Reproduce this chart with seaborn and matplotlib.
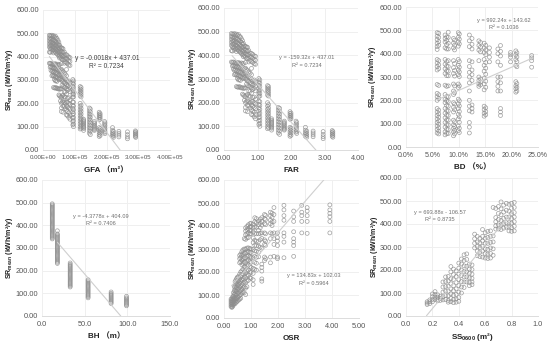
import matplotlib
matplotlib.use("Agg")
import matplotlib.pyplot as plt
import numpy as np
import pandas as pd
import seaborn as sns

# Shared SR values, one list per FAR / GFA column
far_values = [0.22, 0.25, 0.28, 0.31, 0.34, 0.37, 0.40, 0.43, 0.46, 0.49, 0.52, 0.55, 0.58, 0.61,
              0.64, 0.67, 0.70, 0.74, 0.78, 0.82, 0.86, 0.90, 0.94, 1.04, 1.07, 1.30, 1.33, 1.42,
              1.62, 1.66, 1.80, 1.97, 2.00, 2.15, 2.17, 2.43, 2.47, 2.66, 2.96, 3.23, 3.25]
gfa_values = [20000, 22500, 25000, 28000, 31000, 33000, 36000, 39000, 41000, 44000, 47000, 50000, 52000, 55000,
              58000, 60000, 63000, 67000, 70000, 74000, 77000, 81000, 85000, 94000, 96000, 117000, 120000, 128000,
              146000, 149000, 162000, 177000, 180000, 194000, 195000, 219000, 222000, 239000, 266000, 291000, 292000]
sr_by_far = [
    [492, 480, 468, 455, 442, 420, 372],
    [490, 476, 462, 448, 436, 418, 370, 355],
    [488, 474, 460, 446, 432, 372, 358, 342],
    [492, 478, 464, 450, 436, 422, 368, 352, 336, 318],
    [486, 470, 456, 442, 428, 370, 354, 338, 320],
    [490, 472, 458, 444, 430, 416, 366, 350, 334, 316, 268],
    [484, 468, 452, 438, 424, 368, 352, 336, 318, 302, 266],
    [488, 466, 450, 434, 420, 370, 348, 330, 312, 296, 265],
    [480, 462, 446, 430, 416, 366, 350, 332, 314, 298, 268],
    [478, 458, 442, 426, 412, 364, 346, 328, 310, 294, 264],
    [470, 454, 438, 422, 408, 368, 344, 326, 308, 262],
    [462, 448, 432, 416, 402, 364, 342, 322, 304, 264, 236],
    [450, 436, 420, 406, 394, 366, 340, 320, 302, 260, 232],
    [440, 426, 412, 398, 344, 326, 306, 262, 228, 210],
    [438, 422, 406, 392, 370, 346, 322, 300, 262, 226, 200, 180, 165],
    [436, 420, 404, 388, 340, 318, 298, 278, 232, 205],
    [434, 418, 400, 386, 335, 312, 292, 272, 234, 208, 188, 162],
    [420, 404, 388, 372, 330, 310, 290, 270, 250, 228, 204, 186],
    [410, 394, 378, 325, 305, 286, 268, 248, 226, 200, 178],
    [408, 392, 374, 345, 318, 298, 280, 262, 240, 205, 190, 170, 150],
    [404, 388, 370, 292, 274, 256, 222, 205, 185, 165, 148],
    [398, 382, 364, 296, 278, 260, 224, 200, 180, 160, 140],
    [396, 380, 362, 288, 270, 250, 215, 195, 175, 150, 132],
    [302, 288, 274, 260, 248, 236, 226, 206, 192, 178, 164, 150, 136, 122, 108],
    [296, 282, 268, 254, 240, 228, 204, 188, 172, 156, 140, 126, 112, 100],
    [272, 262, 252, 242, 232, 200, 186, 172, 160, 148, 136, 124, 112, 100, 90],
    [268, 258, 248, 238, 228, 192, 178, 166, 154, 142, 130, 118, 106, 94],
    [132, 122, 112, 102, 92, 84, 126, 116, 106, 96],
    [180, 168, 156, 144, 132, 120, 108, 96, 84, 72],
    [176, 164, 152, 140, 128, 116, 104, 92, 80, 66],
    [122, 112, 102, 92, 84, 116, 106, 96, 88],
    [162, 154, 146, 138, 130, 96, 86, 76, 66, 58],
    [156, 148, 140, 132, 92, 82, 72, 62],
    [122, 110, 98, 86, 76],
    [116, 104, 92, 80, 70],
    [96, 84, 74, 66, 58],
    [80, 70, 62, 54],
    [80, 72, 64, 56],
    [78, 66, 56, 48],
    [82, 74, 66, 58],
    [78, 70, 62, 54],
]

bd_values = [0.059, 0.062, 0.074, 0.077, 0.080, 0.090, 0.092, 0.099, 0.101, 0.120, 0.125, 0.138, 0.141,
             0.148, 0.151, 0.158, 0.174, 0.179, 0.198, 0.208, 0.210, 0.238]
sr_by_bd = [
    [490, 475, 460, 445, 430, 418, 375, 360, 345, 330, 268, 230, 215, 200, 165, 150, 135, 120, 105, 90, 75, 60],
    [488, 470, 452, 436, 370, 352, 336, 264, 224, 208, 158, 142, 128, 112, 98, 82, 68, 56],
    [480, 465, 450, 425, 375, 355, 335, 315, 265, 225, 205, 190, 165, 145, 125, 105, 85, 65, 52],
    [472, 456, 438, 420, 366, 346, 326, 306, 260, 216, 198, 178, 156, 136, 116, 96, 76, 58],
    [492, 470, 445, 420, 370, 345, 325, 305, 262, 215, 195, 175, 155, 135, 115, 95, 75, 58],
    [465, 445, 425, 370, 340, 315, 270, 240, 225, 190, 170, 150, 115, 95, 80, 65, 48],
    [458, 436, 416, 358, 328, 304, 262, 232, 184, 160, 108, 88, 72, 56],
    [490, 470, 450, 432, 375, 350, 330, 310, 270, 255, 205, 185, 165, 140, 120, 90, 70],
    [484, 462, 442, 366, 342, 322, 302, 262, 198, 176, 152, 130, 106, 80, 62],
    [480, 455, 430, 370, 345, 320, 300, 275, 240, 200, 175, 155, 105, 85, 60],
    [465, 440, 420, 365, 330, 310, 285, 180, 165, 150],
    [455, 435, 415, 370, 300, 285, 270, 260],
    [448, 428, 408, 292, 278, 266],
    [445, 425, 405, 375, 350, 325, 295, 270, 245, 175, 160, 145, 132],
    [436, 416, 396, 362, 338, 312, 282, 256, 168, 152, 138],
    [425, 405, 385, 365],
    [420, 400, 365, 300, 280, 260, 240],
    [435, 410, 390, 350, 300, 275, 240, 165, 150, 135],
    [405, 395, 385, 365],
    [412, 395, 375, 350, 280, 262, 250, 235],
    [404, 386, 366, 344, 272, 256, 240],
    [392, 382, 370, 342],
]

bh_values = [12, 18, 33, 54, 81, 99]
sr_by_bh = [
    [340, 345, 350, 355, 360, 365, 370, 375, 380, 385, 390, 395, 400, 405, 410, 415, 420, 425, 430, 435, 440,
     445, 450, 455, 460, 465, 470, 475, 480, 485, 490, 495],
    [232, 237, 242, 247, 252, 257, 262, 267, 272, 277, 282, 287, 292, 297, 302, 307, 312, 317, 322, 327, 332,
     337, 342, 347, 352, 357, 362, 376],
    [128, 133, 138, 143, 148, 153, 158, 163, 168, 173, 178, 183, 188, 193, 198, 203, 208, 213, 218, 223, 228, 234],
    [80, 85, 90, 95, 100, 105, 110, 115, 120, 125, 130, 135, 140, 145, 150, 155, 160],
    [55, 60, 65, 70, 75, 80, 85, 90, 95, 100, 106],
    [45, 50, 55, 60, 65, 70, 75, 80, 87],
]

osr_values = [0.26, 0.29, 0.32, 0.35, 0.38, 0.41, 0.44, 0.47, 0.50, 0.54, 0.58, 0.62, 0.66, 0.70, 0.75,
              0.80, 0.85, 0.90, 0.96, 1.00, 1.08, 1.14, 1.20, 1.28, 1.34, 1.40, 1.50, 1.54, 1.72, 1.78,
              1.85, 1.98, 2.22, 2.58, 2.88, 3.08, 3.92]
sr_by_osr = [
    [82, 74, 66, 58, 50],
    [84, 76, 68, 60, 52, 46],
    [92, 82, 74, 66, 58, 50],
    [110, 96, 84, 74, 64, 56],
    [135, 118, 102, 88, 76, 64],
    [158, 140, 122, 106, 90, 76, 62],
    [165, 148, 130, 114, 98, 82, 68],
    [172, 152, 134, 116, 100, 84, 70],
    [178, 160, 142, 124, 106, 90, 74],
    [180, 162, 144, 126, 108, 92, 78],
    [272, 258, 240, 190, 170, 152, 134, 116, 98, 82],
    [278, 262, 244, 200, 180, 160, 140, 120, 102, 86],
    [288, 272, 252, 232, 205, 185, 165, 145, 125, 108],
    [296, 278, 258, 238, 212, 192, 172, 152, 132, 112],
    [345, 300, 282, 262, 242, 222, 200, 178, 156, 134, 110],
    [392, 378, 362, 342, 300, 282, 262, 242, 220, 198, 176, 154, 130, 102],
    [398, 384, 366, 348, 304, 286, 268, 248, 226, 204, 182, 160, 136],
    [405, 388, 370, 350, 305, 288, 270, 250, 230, 208, 186, 164],
    [410, 396, 380, 366, 302, 286, 268, 246, 224, 200, 176],
    [412, 398, 382, 366, 300, 284, 264, 242, 220, 198, 172],
    [408, 392, 374, 348, 328, 298, 262, 216, 194, 166, 146],
    [436, 418, 396, 368, 338, 316, 292, 268, 242, 212],
    [432, 414, 394, 366, 334, 314, 290, 264, 238, 208],
    [422, 406, 382, 366, 332, 312, 286, 266],
    [430, 412, 392, 368, 340, 308],
    [436, 420, 404, 370, 346, 304, 234, 220, 204, 170, 160],
    [450, 432, 410, 370, 340, 320, 265, 250],
    [446, 428, 406, 366, 334, 316, 258],
    [460, 445, 425, 410, 370, 345, 265, 240],
    [456, 438, 418, 402, 366],
    [480, 450, 420, 370, 345, 320, 268],
    [370, 350, 335, 315, 265, 258],
    [490, 470, 445, 425, 370, 355, 330, 262],
    [465, 440, 420, 375, 345, 330, 315, 268],
    [490, 460, 445, 420, 370],
    [480, 465, 445, 420, 368],
    [492, 470, 455, 440, 420, 370],
]

ss_values = [0.16, 0.18, 0.20, 0.22, 0.24, 0.26, 0.28, 0.30, 0.32, 0.34, 0.36, 0.38, 0.40, 0.42, 0.44,
             0.46, 0.48, 0.50, 0.52, 0.54, 0.56, 0.58, 0.60, 0.62, 0.64, 0.66, 0.68, 0.70, 0.72, 0.74,
             0.76, 0.78, 0.80, 0.82]
sr_by_ss = [
    [62, 56, 50],
    [70, 62, 54],
    [96, 84, 72, 62],
    [106, 94, 82, 72],
    [92, 82, 72, 66],
    [86, 76, 68],
    [148, 126, 104, 84, 70],
    [170, 150, 128, 108, 88, 72],
    [172, 152, 130, 108, 88, 68, 60],
    [215, 192, 162, 140, 118, 96, 76, 62],
    [204, 180, 158, 132, 110, 90, 72, 58],
    [196, 172, 146, 118, 94, 74, 60],
    [230, 208, 182, 158, 132, 104, 80, 64],
    [248, 226, 200, 176, 150, 126, 100],
    [266, 242, 218, 194, 170, 148, 124],
    [270, 246, 216, 192, 170, 148],
    [226, 204, 186, 166, 146, 132],
    [222, 202, 182, 164, 148, 136],
    [356, 336, 316, 296],
    [346, 322, 302, 282, 262],
    [338, 318, 298, 278, 258],
    [376, 346, 326, 302, 282, 256],
    [362, 338, 316, 292, 272, 252],
    [368, 342, 316, 290, 270, 250],
    [370, 346, 320, 296, 272, 252],
    [472, 348, 322, 292, 264],
    [468, 428, 410, 392, 378],
    [476, 446, 420, 396, 378],
    [496, 466, 440, 416, 396, 376],
    [482, 452, 424, 402, 382],
    [490, 460, 430, 406, 386],
    [486, 456, 430, 406, 386, 370],
    [490, 468, 446, 424, 404, 384, 368],
    [494, 472, 450, 430, 410, 390, 370],
]

# Axis setup for the six panels
panels = [
    {"x": gfa_values, "sr": sr_by_far, "xlim": (0, 400000), "xticks": [0, 100000, 200000, 300000, 400000],
     "xlabels": ["0.00E+00", "1.00E+05", "2.00E+05", "3.00E+05", "4.00E+05"], "xsize": 4.4,
     "xlabel": "GFA \uff08m\u00b2\uff09", "rect": (43, 10, 127, 140), "ylab_x": 10, "xlab_y": 170,
     "slope": -0.0018, "icept": 437.01, "span": (20000, 242800),
     "eq": "y = -0.0018x + 437.01", "r2": "R\u00b2 = 0.7234", "eq_at": (201000, 390), "dark": True},
    {"x": far_values, "sr": sr_by_far, "xlim": (0, 4), "xticks": [0, 1, 2, 3, 4],
     "xlabels": ["0.00", "1.00", "2.00", "3.00", "4.00"], "xsize": 5.3,
     "xlabel": "FAR", "rect": (224, 8, 134, 142), "ylab_x": 192, "xlab_y": 171,
     "slope": -159.32, "icept": 437.01, "span": (0.24, 2.743),
     "eq": "y = -159.32x + 437.01", "r2": "R\u00b2 = 0.7234", "eq_at": (2.48, 389), "dark": False},
    {"x": bd_values, "sr": sr_by_bd, "xlim": (0, 0.25), "xticks": [0, 0.05, 0.10, 0.15, 0.20, 0.25],
     "xlabels": ["0.0%", "5.0%", "10.0%", "15.0%", "20.0%", "25.0%"], "xsize": 5.0,
     "xlabel": "BD \uff08%\uff09", "rect": (406, 7, 132, 140), "ylab_x": 372, "xlab_y": 167,
     "slope": 992.24, "icept": 143.62, "span": (0.06, 0.24),
     "eq": "y = 992.24x + 143.62", "r2": "R\u00b2 = 0.1036", "eq_at": (0.186, 544), "dark": False},
    {"x": bh_values, "sr": sr_by_bh, "xlim": (0, 150), "xticks": [0, 50, 100, 150],
     "xlabels": ["0.0", "50.0", "100.0", "150.0"], "xsize": 5.3,
     "xlabel": "BH \uff08m\uff09", "rect": (42, 180, 128, 136), "ylab_x": 10, "xlab_y": 336,
     "slope": -4.3778, "icept": 404.09, "span": (18, 92.3),
     "eq": "y = -4.3778x + 404.09", "r2": "R\u00b2 = 0.7406", "eq_at": (68.8, 437), "dark": False},
    {"x": osr_values, "sr": sr_by_osr, "xlim": (0, 5), "xticks": [0, 1, 2, 3, 4, 5],
     "xlabels": ["0.00", "1.00", "2.00", "3.00", "4.00", "5.00"], "xsize": 5.3,
     "xlabel": "OSR", "rect": (224, 180, 135, 138), "ylab_x": 192, "xlab_y": 339,
     "slope": 134.83, "icept": 102.03, "span": (0.28, 3.7),
     "eq": "y = 134.83x + 102.03", "r2": "R\u00b2 = 0.5964", "eq_at": (3.33, 183), "dark": False},
    {"x": ss_values, "sr": sr_by_ss, "xlim": (0, 1), "xticks": [0, 0.2, 0.4, 0.6, 0.8, 1.0],
     "xlabels": ["0.0", "0.2", "0.4", "0.6", "0.8", "1.0"], "xsize": 5.3,
     "xlabel": "SS$\\mathbf{_{0600}}$ (m\u00b2)", "rect": (406, 178, 132, 138), "ylab_x": 374, "xlab_y": 337,
     "slope": 693.88, "icept": -106.57, "span": (0.155, 0.82),
     "eq": "y = 693.88x - 106.57", "r2": "R\u00b2 = 0.8735", "eq_at": (0.258, 452), "dark": False},
]

FIG_W, FIG_H = 550, 346

sns.set_theme(style="whitegrid")
plt.rcParams["font.family"] = ["Liberation Sans", "Noto Sans CJK SC"]
plt.rcParams["mathtext.fontset"] = "custom"
plt.rcParams["mathtext.rm"] = "Liberation Sans"
plt.rcParams["mathtext.bf"] = "Liberation Sans:bold"

fig = plt.figure(figsize=(FIG_W / 100, FIG_H / 100), dpi=100)

for p in panels:
    left, top, w, h = p["rect"]
    ax = fig.add_axes([left / FIG_W, 1 - (top + h) / FIG_H, w / FIG_W, h / FIG_H])

    # long form table, one row per circle
    rows = [(x, s) for x, col in zip(p["x"], p["sr"]) for s in col]
    df = pd.DataFrame(rows, columns=["x", "sr"])
    sns.scatterplot(data=df, x="x", y="sr", ax=ax, s=8, facecolor="none",
                    edgecolor="#8e8e8e", linewidth=0.5, alpha=0.85, zorder=3)

    # trend line from the equation printed on the chart
    line_x = np.array(p["span"])
    line = pd.DataFrame({"x": line_x, "y": p["slope"] * line_x + p["icept"]})
    sns.lineplot(data=line, x="x", y="y", ax=ax, color="#cfcfcf", linewidth=0.8, zorder=4)

    ax.set_xlim(*p["xlim"])
    ax.set_ylim(0, 600)
    ax.set_xticks(p["xticks"], p["xlabels"])
    ax.set_yticks(range(0, 601, 100), [f"{v:.2f}" for v in range(0, 601, 100)])
    ax.grid(True, color="#efefef", linewidth=0.7)
    ax.set_axisbelow(True)
    for spine in ax.spines.values():
        spine.set_visible(False)
    ax.spines["bottom"].set_visible(True)
    ax.spines["bottom"].set_color("#dcdcdc")
    ax.spines["bottom"].set_linewidth(0.7)
    ax.tick_params(length=0, labelsize=5.3, labelcolor="#555555", pad=2.5)
    ax.tick_params(axis="x", labelsize=p["xsize"], pad=3.5)

    ax.set_xlabel(p["xlabel"], fontsize=5.8, fontweight="bold", color="#222222")
    ax.xaxis.set_label_coords(0.5, -(p["xlab_y"] - (top + h)) / h, transform=ax.transAxes)
    ax.xaxis.label.set_va("center")
    ax.set_ylabel("SR$\\mathbf{_{mean}}$ (kWh/m\u00b2/y)", fontsize=5.0, fontweight="bold", color="#222222")
    ax.yaxis.set_label_coords((p["ylab_x"] - left) / w, 0.5, transform=ax.transAxes)
    ax.yaxis.label.set_va("center")

    eq_color = "#404040" if p["dark"] else "#6e6e6e"
    eq_size = 4.8 if p["dark"] else 4.1
    ax.text(p["eq_at"][0], p["eq_at"][1], p["eq"], fontsize=eq_size, color=eq_color, ha="center", va="center", zorder=5)
    ax.text(p["eq_at"][0], p["eq_at"][1] - 31, p["r2"], fontsize=eq_size, color=eq_color, ha="center", va="center", zorder=5)

fig.savefig("out.png", dpi=100)
